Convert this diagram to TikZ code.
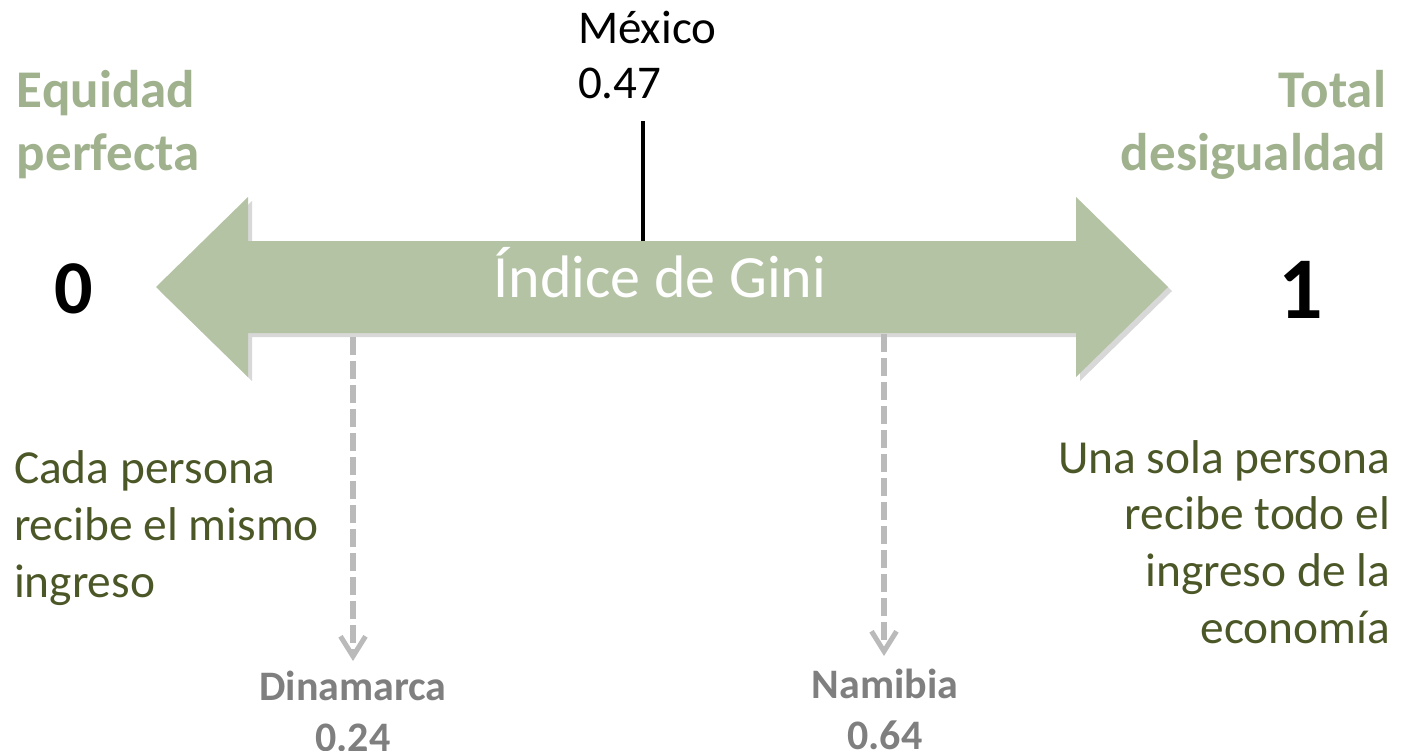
\documentclass[tikz,border=0pt]{standalone}
\usepackage{fontspec}
\setmainfont{Carlito}
\usetikzlibrary{arrows.meta,shadows}
\definecolor{arrowgreen}{HTML}{B4C3A4}
\definecolor{labelgreen}{HTML}{A0B18D}
\definecolor{olivetext}{HTML}{4B5727}
\definecolor{dashgray}{HTML}{BABABA}
\definecolor{labelgray}{HTML}{7F7F7F}
\begin{document}
\begin{tikzpicture}[x=0.5pt,y=-0.5pt,
  every node/.style={inner sep=0pt, outer sep=0pt},
  endlabel/.style={font=\fontsize{26.5pt}{31.5pt}\selectfont\bfseries, text=labelgreen},
  desc/.style={font=\fontsize{23.7pt}{28.3pt}\selectfont, text=olivetext},
  country/.style={font=\fontsize{21pt}{25.5pt}\selectfont\bfseries, text=labelgray, align=center},
  pointer/.style={draw=dashgray, line width=3pt, dash pattern=on 9pt off 3pt,
    -{Straight Barb[length=10pt,width=12.5pt,line width=2.5pt]}},
  bigarrow/.style={fill=arrowgreen, drop shadow={shadow xshift=2pt, shadow yshift=-2pt, opacity=0.22, fill=black!70}}
]
\useasboundingbox (0,0) rectangle (1402,750);

% double arrow
\path[bigarrow] (156,287) -- (248,197) -- (248,241) -- (1076,241) -- (1076,197)
  -- (1168,287) -- (1076,377) -- (1076,333) -- (248,333) -- (248,377) -- cycle;
\node[font=\fontsize{30pt}{36pt}\selectfont, text=white, anchor=base] (gini) at (660,297) {Índice de Gini};

% ends
\node[endlabel, align=left, anchor=base west] (equidad) at (17,170) {Equidad\\perfecta};
\node[endlabel, align=right, anchor=base east] (total) at (1386,170) {Total\\desigualdad};
\node[font=\fontsize{38pt}{46pt}\selectfont\bfseries, anchor=base] (zero) at (74,313) {0};
\node[font=\fontsize{44pt}{52pt}\selectfont\bfseries, anchor=base] (one) at (1301,318) {1};

\node[desc, align=left, anchor=base west] (cada) at (14,597) {Cada persona\\recibe el mismo\\ingreso};
\node[desc, align=right, anchor=base east] (una) at (1390,643) {Una sola persona\\recibe todo el\\ingreso de la\\economía};

% Mexico
\node[font=\fontsize{23.5pt}{27.5pt}\selectfont, align=left, anchor=base west] (mexico) at (578,98) {México\\0.47};
\coordinate (mexTop) at (643,121);
\coordinate (mexBot) at (643,241);
\draw[line width=2pt] (mexTop) -- (mexBot);

% Dinamarca / Namibia
\coordinate (dinTop) at (353,337);
\coordinate (dinTip) at (353,661);
\coordinate (namTop) at (884,334);
\coordinate (namTip) at (884,656);
\draw[pointer] (dinTop) -- (dinTip);
\draw[pointer] (namTop) -- (namTip);
\node[country, anchor=base] (dinamarca) at (353,751) {Dinamarca\\0.24};
\node[country, anchor=base] (namibia) at (885,749) {Namibia\\0.64};
\end{tikzpicture}
\end{document}
